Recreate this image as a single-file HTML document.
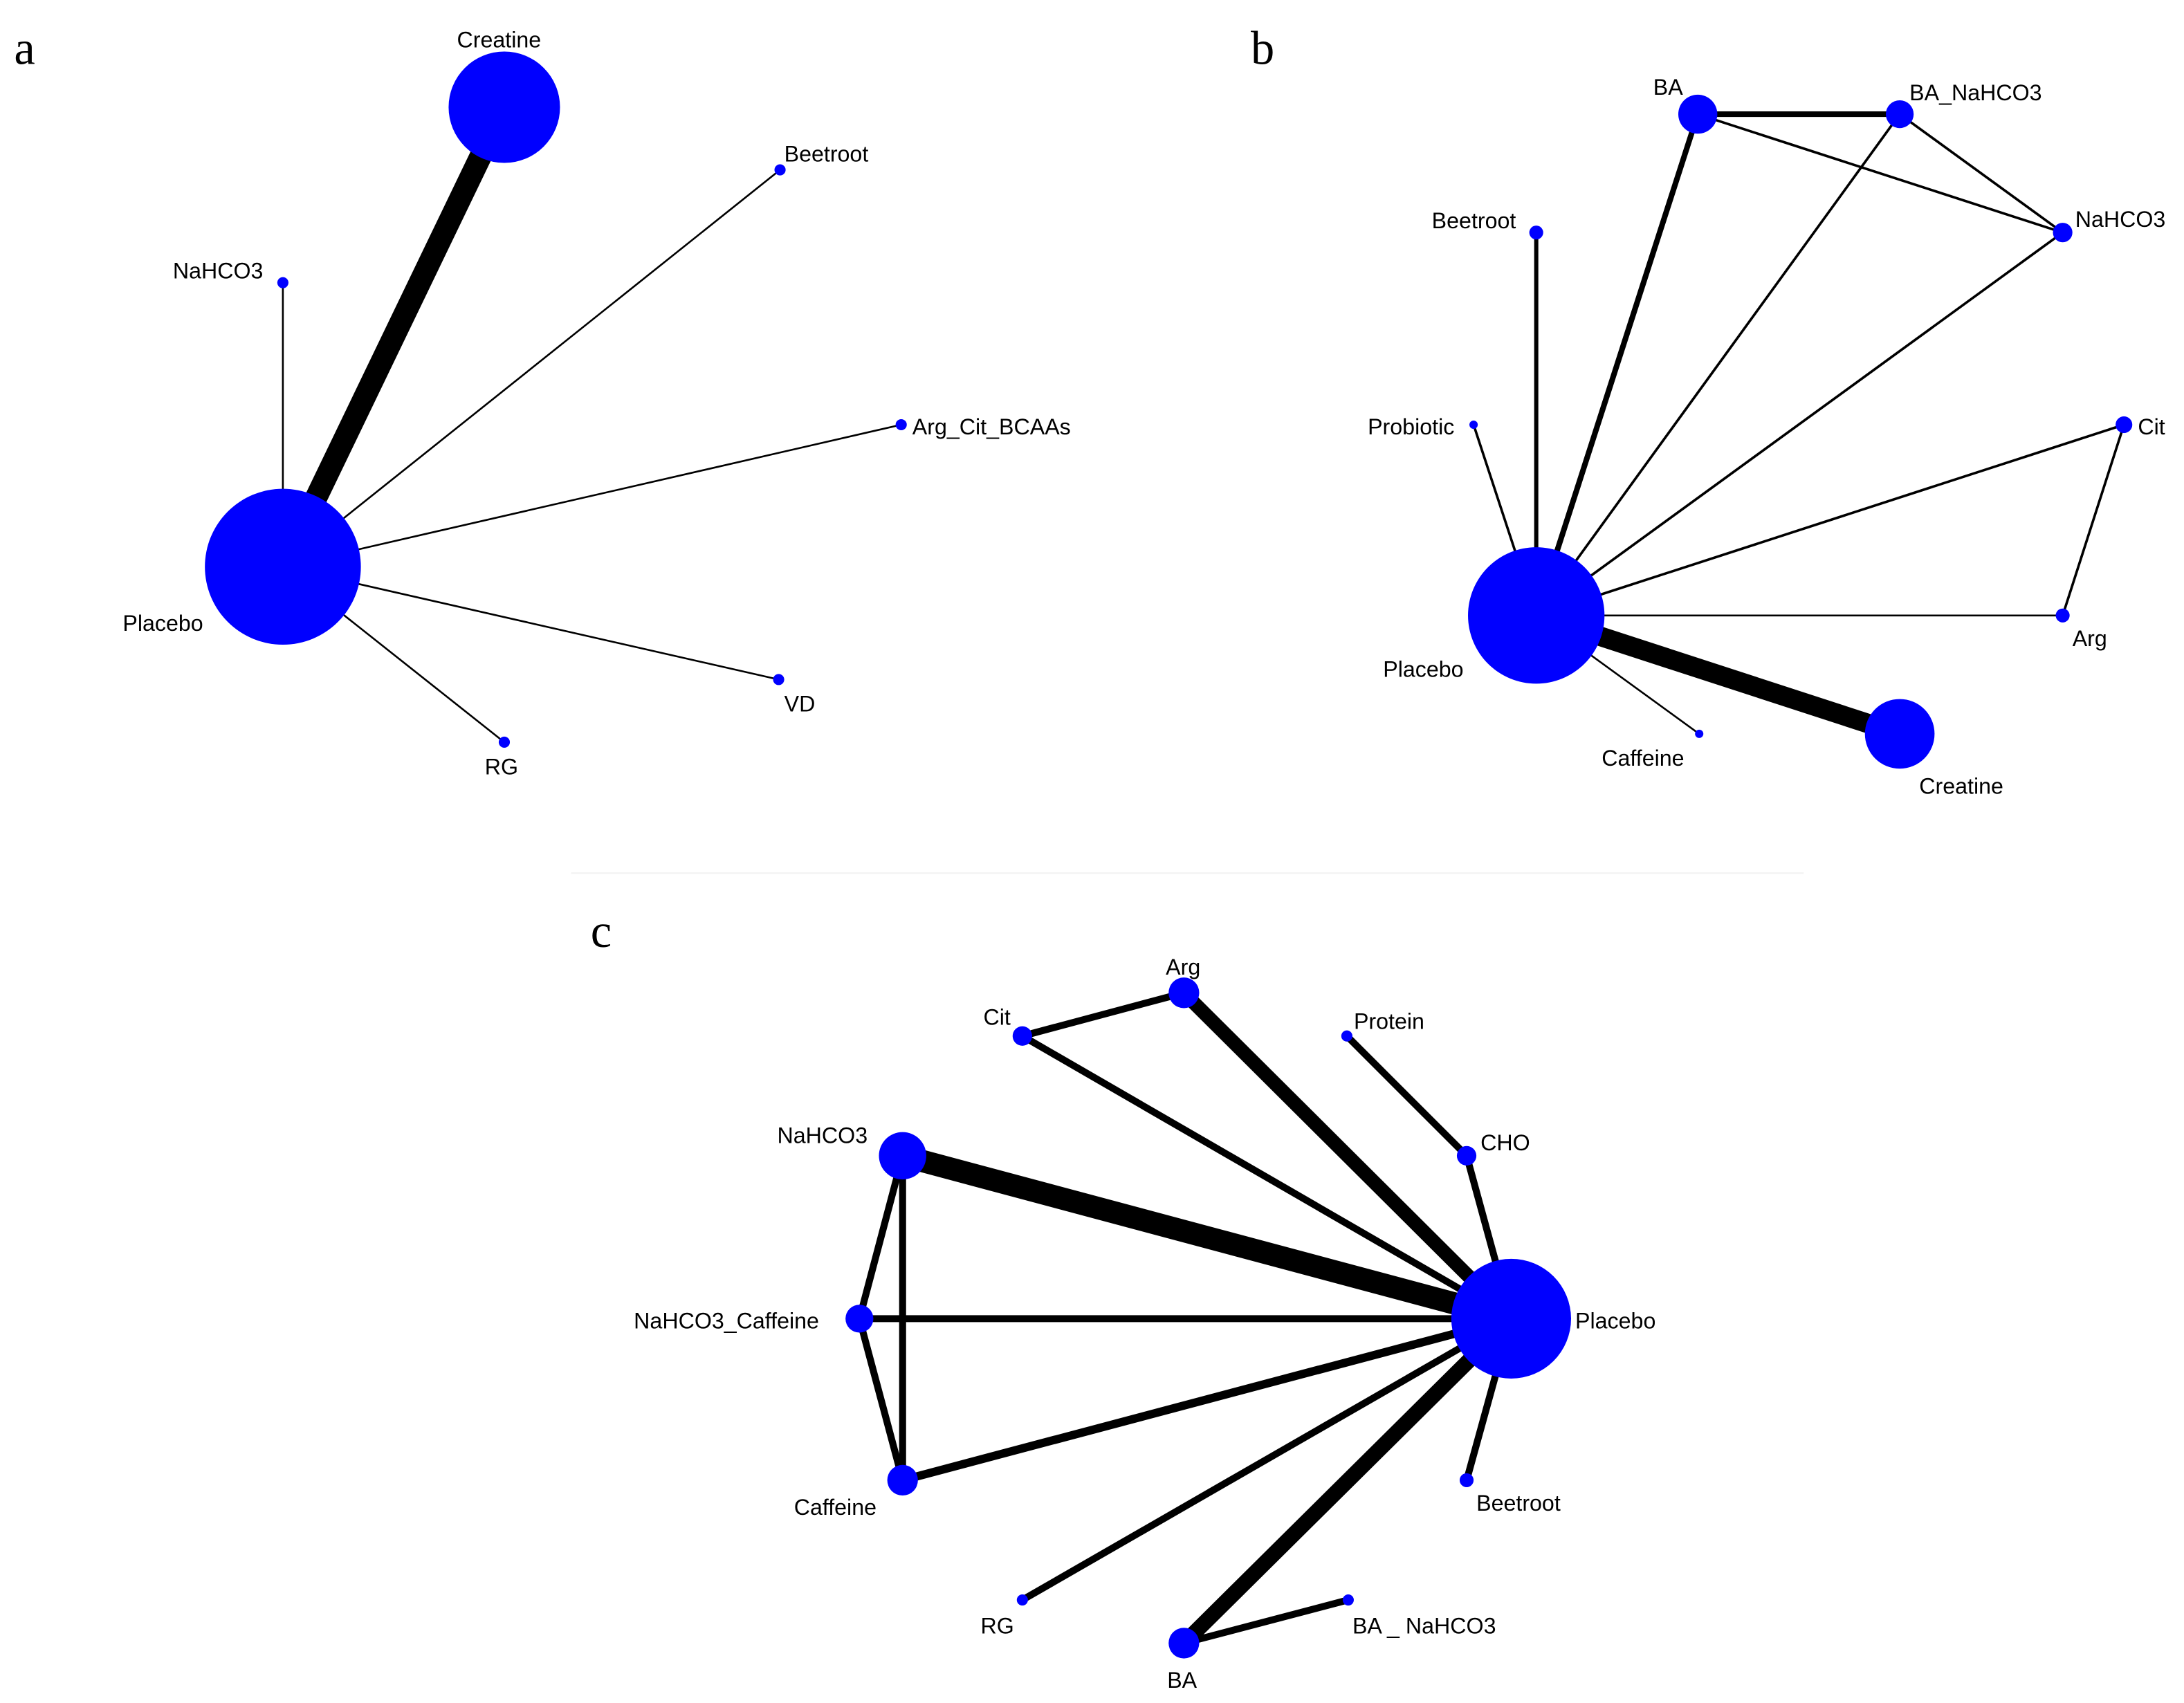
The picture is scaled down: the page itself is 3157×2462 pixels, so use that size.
<!DOCTYPE html>
<html><head><meta charset="utf-8"><style>
html,body{margin:0;padding:0;background:#fff;}
svg{display:block;}
text{font-family:"Liberation Sans",Arial,sans-serif;font-size:16px;fill:#000;}
.p{font-family:"Liberation Serif","Times New Roman",serif;font-size:34px;}
</style></head><body>
<svg width="3157" height="2462" viewBox="0 0 1568 1223" xmlns="http://www.w3.org/2000/svg">
<rect width="1568" height="1223" fill="#fff"/>
<line x1="410" y1="627" x2="1295" y2="627" stroke="#f2f2f2" stroke-width="1"/>
<!-- Panel a -->
<text class="p" x="10" y="46">a</text>
<g stroke="#000" stroke-linecap="butt">
<line x1="203" y1="407" x2="362" y2="77" stroke-width="16"/>
<line x1="203" y1="407" x2="560" y2="122" stroke-width="1.3"/>
<line x1="203" y1="407" x2="203" y2="203" stroke-width="1.3"/>
<line x1="203" y1="407" x2="647" y2="305" stroke-width="1.3"/>
<line x1="203" y1="407" x2="559" y2="488" stroke-width="1.3"/>
<line x1="203" y1="407" x2="362" y2="533" stroke-width="1.3"/>
</g>
<g fill="#0000ff">
<circle cx="203" cy="407" r="56"/><circle cx="362" cy="77" r="40"/>
<circle cx="560" cy="122" r="4"/><circle cx="203" cy="203" r="4"/>
<circle cx="647" cy="305" r="4"/><circle cx="559" cy="488" r="4"/><circle cx="362" cy="533" r="4"/>
</g>
<text x="88" y="453">Placebo</text><text x="328" y="34">Creatine</text>
<text x="563" y="116">Beetroot</text><text x="124" y="200">NaHCO3</text>
<text x="655" y="312">Arg_Cit_BCAAs</text><text x="563" y="511">VD</text><text x="348" y="556">RG</text>
<!-- Panel b -->
<text class="p" x="898" y="46">b</text>
<g stroke="#000">
<line x1="1103" y1="442" x2="1364" y2="527" stroke-width="14"/>
<line x1="1103" y1="442" x2="1219" y2="82" stroke-width="4"/>
<line x1="1219" y1="82" x2="1364" y2="82" stroke-width="4"/>
<line x1="1219" y1="82" x2="1481" y2="167" stroke-width="1.8"/>
<line x1="1364" y1="82" x2="1481" y2="167" stroke-width="1.8"/>
<line x1="1103" y1="442" x2="1364" y2="82" stroke-width="1.8"/>
<line x1="1103" y1="442" x2="1481" y2="167" stroke-width="1.8"/>
<line x1="1103" y1="442" x2="1103" y2="167" stroke-width="3"/>
<line x1="1103" y1="442" x2="1058" y2="305" stroke-width="1.8"/>
<line x1="1103" y1="442" x2="1525" y2="305" stroke-width="1.8"/>
<line x1="1525" y1="305" x2="1481" y2="442" stroke-width="1.8"/>
<line x1="1103" y1="442" x2="1481" y2="442" stroke-width="1.3"/>
<line x1="1103" y1="442" x2="1220" y2="527" stroke-width="1.3"/>
</g>
<g fill="#0000ff">
<circle cx="1103" cy="442" r="49"/><circle cx="1219" cy="82" r="14"/>
<circle cx="1364" cy="82" r="10"/><circle cx="1481" cy="167" r="7"/>
<circle cx="1103" cy="167" r="5"/><circle cx="1058" cy="305" r="3"/>
<circle cx="1525" cy="305" r="6"/><circle cx="1481" cy="442" r="5"/>
<circle cx="1220" cy="527" r="3"/><circle cx="1364" cy="527" r="25"/>
</g>
<text x="993" y="486">Placebo</text><text x="1187" y="68">BA</text>
<text x="1371" y="72">BA_NaHCO3</text><text x="1490" y="163">NaHCO3</text>
<text x="1028" y="164">Beetroot</text><text x="982" y="312">Probiotic</text>
<text x="1535" y="312">Cit</text><text x="1488" y="464">Arg</text>
<text x="1150" y="550">Caffeine</text><text x="1378" y="570">Creatine</text>
<!-- Panel c -->
<text class="p" x="424" y="680">c</text>
<g stroke="#000">
<line x1="1085" y1="947" x2="648" y2="830" stroke-width="16"/>
<line x1="1085" y1="947" x2="850" y2="713" stroke-width="10"/>
<line x1="1085" y1="947" x2="850" y2="1180" stroke-width="11"/>
<line x1="734" y1="744" x2="850" y2="713" stroke-width="5"/>
<line x1="1085" y1="947" x2="734" y2="744" stroke-width="5"/>
<line x1="967" y1="744" x2="1053" y2="830" stroke-width="5"/>
<line x1="1053" y1="830" x2="1085" y2="947" stroke-width="5"/>
<line x1="648" y1="830" x2="617" y2="947" stroke-width="5"/>
<line x1="648" y1="830" x2="648" y2="1063" stroke-width="5"/>
<line x1="617" y1="947" x2="648" y2="1063" stroke-width="5"/>
<line x1="617" y1="947" x2="1085" y2="947" stroke-width="5"/>
<line x1="648" y1="1063" x2="1085" y2="947" stroke-width="6"/>
<line x1="1085" y1="947" x2="1053" y2="1063" stroke-width="5"/>
<line x1="1085" y1="947" x2="734" y2="1149" stroke-width="5"/>
<line x1="850" y1="1180" x2="968" y2="1149" stroke-width="5"/>
</g>
<g fill="#0000ff">
<circle cx="1085" cy="947" r="43"/><circle cx="850" cy="713" r="11"/>
<circle cx="734" cy="744" r="7"/><circle cx="967" cy="744" r="4"/>
<circle cx="1053" cy="830" r="7"/><circle cx="648" cy="830" r="17"/>
<circle cx="617" cy="947" r="10"/><circle cx="648" cy="1063" r="11"/>
<circle cx="1053" cy="1063" r="5"/><circle cx="734" cy="1149" r="4"/>
<circle cx="850" cy="1180" r="11"/><circle cx="968" cy="1149" r="4"/>
</g>
<text x="1131" y="954">Placebo</text><text x="837" y="700">Arg</text>
<text x="706" y="736">Cit</text><text x="972" y="739">Protein</text>
<text x="1063" y="826">CHO</text><text x="558" y="821">NaHCO3</text>
<text x="455" y="954">NaHCO3_Caffeine</text><text x="570" y="1088">Caffeine</text>
<text x="1060" y="1085">Beetroot</text><text x="704" y="1173">RG</text>
<text x="838" y="1212">BA</text><text x="971" y="1173">BA _ NaHCO3</text>
</svg>
</body></html>
